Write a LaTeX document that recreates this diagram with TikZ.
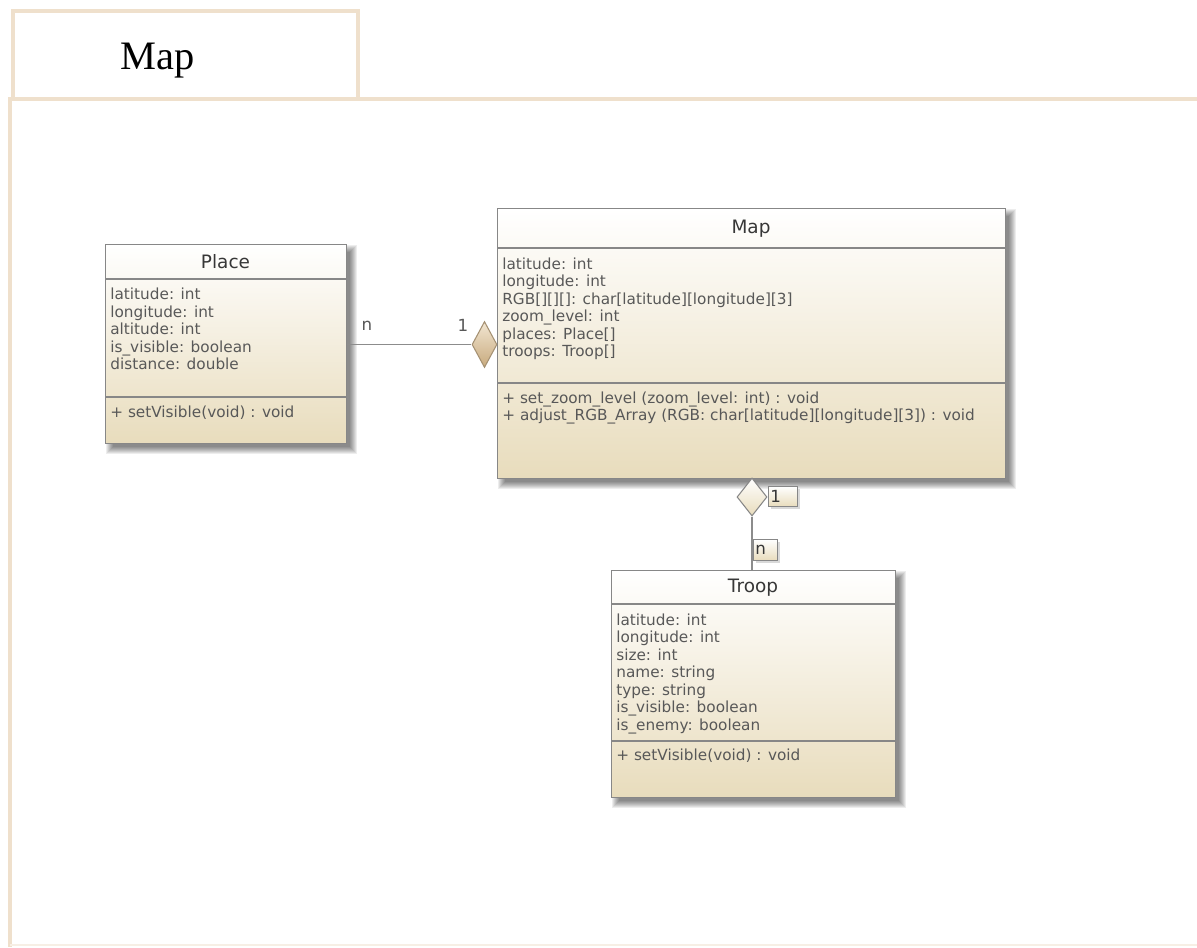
\documentclass[tikz,border=0pt]{standalone}
\usepackage{fontspec}
\setmainfont{Liberation Serif}
\newfontfamily\umlfont{DejaVu Sans}
\usetikzlibrary{shapes.geometric}

\definecolor{framecol}{RGB}{239,224,204}
\definecolor{boxline}{RGB}{135,135,135}
\definecolor{boxtan}{RGB}{232,220,188}
\definecolor{txtgray}{RGB}{88,88,88}
\definecolor{titlegray}{RGB}{55,55,55}
\definecolor{conngray}{RGB}{140,140,140}
\definecolor{diamtop}{RGB}{242,230,210}
\definecolor{diambot}{RGB}{200,170,125}
\definecolor{diamline}{RGB}{165,145,115}

% soft shadow under a box given by its corners (pixel units)
\newcommand{\boxshadow}[4]{%
  \foreach \r in {0,...,7}{%
    \fill[black, opacity=0.07]
      ({#1+8-\r},{#2+8-\r}) rectangle ({#3+4+\r},{#4+4+\r});
  }%
}

\begin{document}
\begin{tikzpicture}[x=0.02cm, y=-0.02cm,
  classbox/.style n args={2}{draw=boxline, line width=0.6pt,
    top color=white, bottom color=boxtan,
    minimum width={#1*0.02cm}, minimum height={#2*0.02cm},
    inner sep=0pt, anchor=north west},
  sepline/.style={draw=boxline, line width=0.6pt},
  attr/.style={font=\umlfont\fontsize{8.7}{10}\selectfont, text=txtgray,
    inner sep=0pt, anchor=base west},
  ctitle/.style={font=\umlfont\fontsize{10.5}{12}\selectfont, text=titlegray,
    inner sep=0pt, anchor=base},
  conn/.style={draw=conngray, line width=0.8pt},
  agg/.style={diamond, draw=diamline, line width=0.6pt, inner sep=0pt,
    top color=diamtop, bottom color=diambot},
  multbox/.style n args={2}{draw=boxline, line width=0.5pt,
    top color=white, bottom color=boxtan,
    font=\umlfont\fontsize{9.5}{11}\selectfont, text=titlegray,
    inner xsep={2*0.02cm}, inner ysep=0pt, align=left,
    text width={(#1-4)*0.02cm}, minimum height={#2*0.02cm}},
  multlabel/.style={font=\umlfont\fontsize{9.5}{11}\selectfont, text=txtgray,
    inner sep=0pt}
]

% page and frame
\useasboundingbox (0,0) rectangle (1197,947);
\fill[white] (0,0) rectangle (1197,947);
\draw[framecol, line width=0.08cm] (13,99) -- (13,11) -- (358,11) -- (358,99);
\draw[framecol, line width=0.08cm] (1197,99) -- (10,99) -- (10,947);
\draw[framecol!50, line width=0.04cm] (10,945) -- (1197,945);
\node[font=\fontsize{23}{26}\selectfont, inner sep=0pt, anchor=base] (frametitle) at (157.5,69) {Map};

% shadows
\boxshadow{105}{244}{346}{443}
\boxshadow{497}{208}{1005}{478}
\boxshadow{611}{570}{895}{797}

% ---- class Place
\node[classbox={241}{199}] (place) at (105,244) {};
\draw[sepline] (105,279) -- (346,279);
\draw[sepline] (105,397) -- (346,397);
\node[ctitle] (placetitle) at (225.5,268) {Place};
\foreach \t [count=\i] in {{latitude: int},{longitude: int},{altitude: int},
    {is\_visible: boolean},{distance: double}}
  \node[attr] (placeattr\i) at (110,{299.5+17.5*(\i-1)}) {\t};
\node[attr] (placeop1) at (110,417) {+ setVisible(void) : void};

% ---- class Map
\node[classbox={508}{270}] (map) at (497,208) {};
\draw[sepline] (497,248) -- (1005,248);
\draw[sepline] (497,383) -- (1005,383);
\node[ctitle] (maptitle) at (751,233) {Map};
\foreach \t [count=\i] in {{latitude: int},{longitude: int},
    {RGB[][][]: char[latitude][longitude][3]},{zoom\_level: int},
    {places: Place[]},{troops: Troop[]}}
  \node[attr] (mapattr\i) at (502,{269+17.5*(\i-1)}) {\t};
\node[attr] (mapop1) at (502,403) {+ set\_zoom\_level (zoom\_level: int) : void};
\node[attr] (mapop2) at (502,420.5) {+ adjust\_RGB\_Array (RGB: char[latitude][longitude][3]) : void};

% ---- class Troop
\node[classbox={284}{227}] (troop) at (611,570) {};
\draw[sepline] (611,604) -- (895,604);
\draw[sepline] (611,741) -- (895,741);
\node[ctitle] (trooptitle) at (753,592) {Troop};
\foreach \t [count=\i] in {{latitude: int},{longitude: int},{size: int},
    {name: string},{type: string},{is\_visible: boolean},{is\_enemy: boolean}}
  \node[attr] (troopattr\i) at (616,{625+17.5*(\i-1)}) {\t};
\node[attr] (troopop1) at (616,760) {+ setVisible(void) : void};

% ---- aggregation Place -> Map
\node[agg, minimum width={25*0.02cm}, minimum height={46*0.02cm}] (d1) at (484.5,344.5) {};
\draw[conn] (place.east |- d1.west) -- (d1.west);
\node[multlabel] (placemult) at (367,326) {n};
\node[multlabel] (mapmult1) at (463,325) {1};

% ---- aggregation Troop -> Map
\fill[black, opacity=0.15] (771,489) rectangle (800,509);
\fill[black, opacity=0.15] (756,542) rectangle (780,563);
\node[agg, top color=white, bottom color=boxtan, draw=boxline,
  minimum width={30*0.02cm}, minimum height={38*0.02cm}] (d2) at (752,497) {};
\draw[conn] (d2.south) -- (d2.south |- troop.north);
\node[multbox={29}{20}, anchor=north west] (mapmult2) at (768,486) {1};
\node[multbox={24}{21}, anchor=north west] (troopmult) at (753,539) {n};

\end{tikzpicture}
\end{document}
